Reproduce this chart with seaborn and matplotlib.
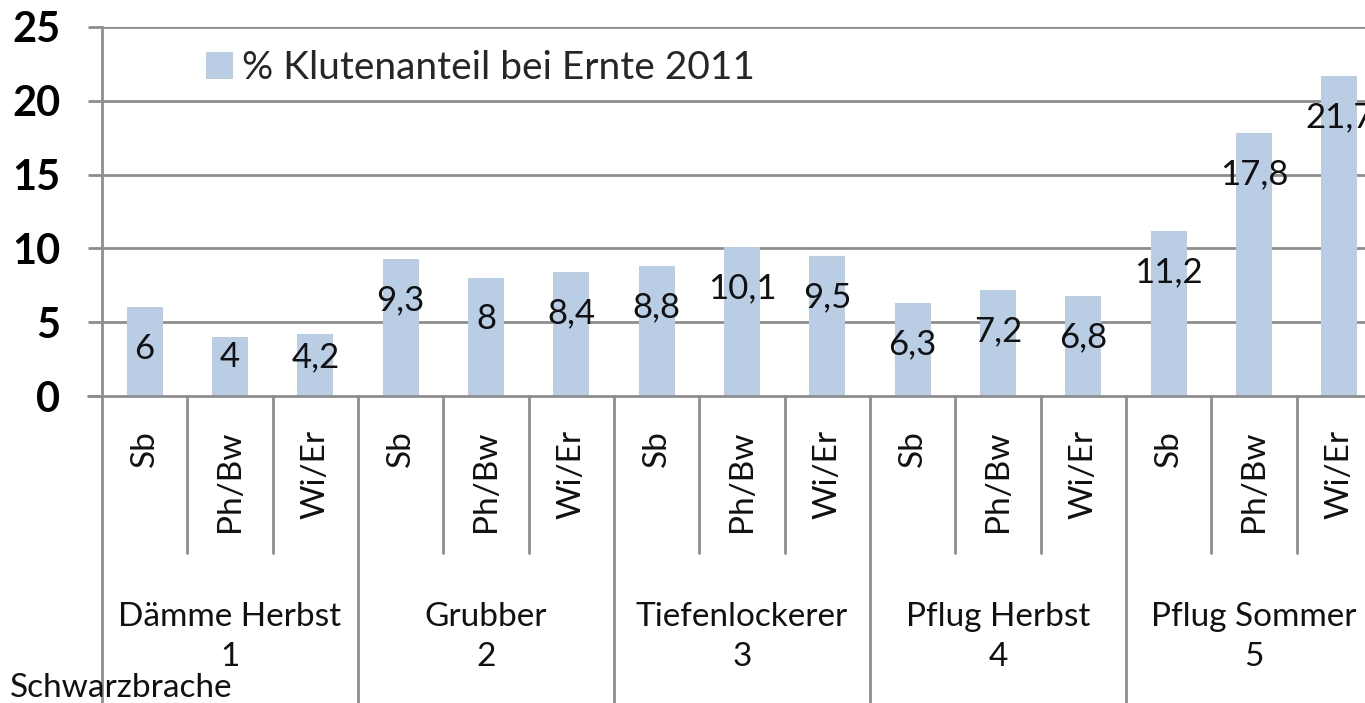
import matplotlib
matplotlib.use("Agg")
import matplotlib.pyplot as plt
import matplotlib.transforms as mtransforms
import seaborn as sns
import pandas as pd

# ---- data ----
groups = ["Dämme Herbst\n1", "Grubber\n2", "Tiefenlockerer\n3", "Pflug Herbst\n4", "Pflug Sommer\n5"]
subcats = ["Sb", "Ph/Bw", "Wi/Er"]
values = [6, 4, 4.2, 9.3, 8, 8.4, 8.8, 10.1, 9.5, 6.3, 7.2, 6.8, 11.2, 17.8, 21.7]
value_labels = ["6", "4", "4,2", "9,3", "8", "8,4", "8,8", "10,1", "9,5", "6,3", "7,2", "6,8", "11,2", "17,8", "21,7"]
series_name = "% Klutenanteil bei Ernte 2011"
yticks = [0, 5, 10, 15, 20, 25]
note = "Schwarzbrache"

sns.set_theme(style="white")
plt.rcParams["font.family"] = ["Lato", "DejaVu Sans"]

W, H = 1365, 703
fig = plt.figure(figsize=(W / 100, H / 100), dpi=100)
ax = fig.add_axes([102 / W, (H - 396) / H, 1280 / W, 369 / H])

ids = [f"{g}|{s}" for g in groups for s in subcats]
df = pd.DataFrame({"id": ids, "val": values})
sns.barplot(data=df, x="id", y="val", order=ids, color="#B9CDE5", saturation=1,
            width=0.42, ax=ax, edgecolor="none", label=series_name)

ax.set_xlim(-0.5, len(ids) - 0.5)
ax.set_ylim(0, 25)
ax.set_yticks(yticks)
ax.set_yticklabels([str(t) for t in yticks], fontsize=30, fontweight="bold", color="black")
ax.set_xticks([])
ax.set_xlabel("")
ax.set_ylabel("")
grid_c = "#8E8E8E"
for t in yticks[1:]:
    ax.axhline(t, color=grid_c, lw=2, zorder=0)
for sp in ["top", "right", "bottom"]:
    ax.spines[sp].set_visible(False)
ax.spines["left"].set_color(grid_c)
ax.spines["left"].set_linewidth(2)
ax.tick_params(axis="y", direction="out", length=10, width=2, color=grid_c, pad=20, left=True)

trans = mtransforms.blended_transform_factory(ax.transData, ax.transAxes)
# zero line (extends to the left like a tick)
ax.plot([-0.5 - 14 / 85.33, len(ids)], [0, 0], transform=trans, color=grid_c, lw=2,
        clip_on=False, zorder=3)

# category separators
for i in range(len(ids) + 1):
    x = i - 0.5
    if i % 3 == 0:
        y0 = -1.0
    else:
        y0 = (396 - 553) / 369
    ax.plot([x, x], [0, y0], transform=trans, color=grid_c, lw=2, clip_on=False)

# data labels
for i, (v, lab) in enumerate(zip(values, value_labels)):
    ax.text(i, max(v - 2.8, 2.65), lab, ha="center", va="center", fontsize=25, color="#111111")

# sub category labels
for i, s in enumerate([s for g in groups for s in subcats]):
    ax.text(i, (396 - 430) / 369, s, rotation=90, ha="center", va="top", fontsize=24,
            transform=trans, color="#111111")

# group labels
for gi, g in enumerate(groups):
    ax.text(gi * 3 + 1, (396 - 637) / 369, g, ha="center", va="center", fontsize=24,
            linespacing=1.4, transform=trans, color="#111111")

fig.text(10 / W, 0.0, note, ha="left", va="bottom", fontsize=24, color="#111111")

leg = ax.legend(loc="center left", bbox_to_anchor=((190 - 102) / 1280, (396 - 68) / 369),
                frameon=False, fontsize=28, handlelength=0.7, handleheight=0.7,
                handletextpad=0.25, borderaxespad=0)

fig.savefig("out.png", dpi=100)
